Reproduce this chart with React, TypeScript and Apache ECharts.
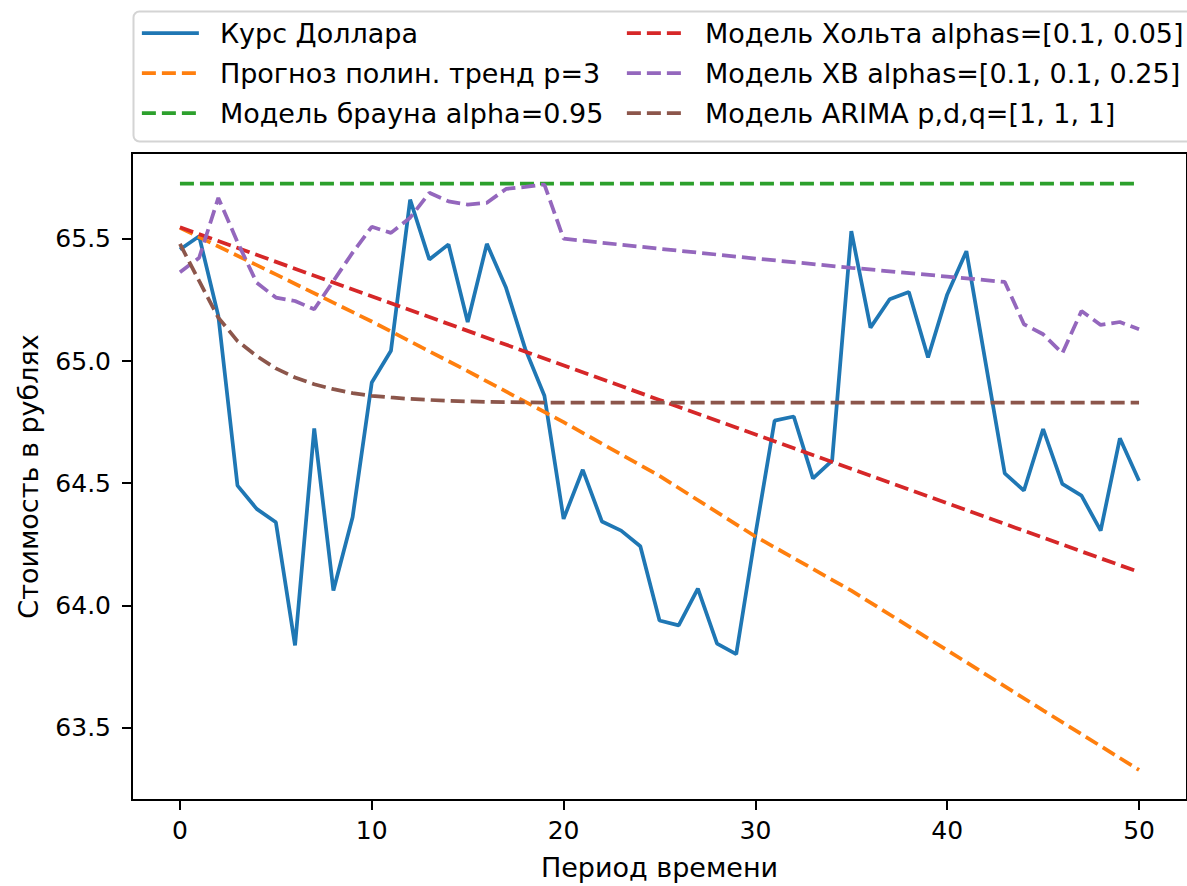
import React, { useEffect, useRef } from "react";
import * as echarts from "echarts";

// Time periods (x) for the observed series
const periods = [
  0, 1, 2, 3, 4, 5, 6, 7, 8, 9, 10, 11, 12, 13, 14, 15, 16, 17, 18, 19, 20,
  21, 22, 23, 24, 25, 26, 27, 28, 29, 30, 31, 32, 33, 34, 35, 36, 37, 38, 39,
  40, 41, 42, 43, 44, 45, 46, 47, 48, 49, 50,
];

// Курс Доллара
const dollarRate = [
  65.457, 65.511, 65.185, 64.49, 64.395, 64.34, 63.836, 64.724, 64.061, 64.361,
  64.912, 65.042, 65.661, 65.416, 65.478, 65.16, 65.48, 65.3, 65.05, 64.858,
  64.354, 64.555, 64.343, 64.306, 64.242, 63.938, 63.918, 64.068, 63.843, 63.8,
  64.29, 64.756, 64.773, 64.52, 64.593, 65.532, 65.137, 65.253, 65.283, 65.015,
  65.273, 65.45, 64.994, 64.54, 64.47, 64.722, 64.497, 64.449, 64.306, 64.684,
  64.51,
];

// Прогноз полин. тренд p=3
const polyX = [0, 5, 10, 15, 20, 25, 30, 35, 40, 45, 50];
const polyY = [65.546, 65.355, 65.162, 64.959, 64.75, 64.53, 64.282, 64.06, 63.816, 63.57, 63.326];

// Модель брауна alpha=0.95
const brownX = [0, 50];
const brownY = [65.727, 65.727];

// Модель Хольта alphas=[0.1, 0.05]
const holtX = [0, 25, 50];
const holtY = [65.548, 64.841, 64.136];

// Модель ХВ alphas=[0.1, 0.1, 0.25]
const hwX = [
  0, 1, 2, 3, 4, 5, 6, 7, 8, 9, 10, 11, 12, 13, 14, 15, 16, 17, 18, 19, 20,
  25, 30, 35, 40, 43, 44, 45, 46, 47, 48, 49, 50,
];
const hwY = [
  65.364, 65.423, 65.668, 65.487, 65.321, 65.26, 65.246, 65.212, 65.328, 65.444,
  65.55, 65.525, 65.587, 65.689, 65.654, 65.641, 65.648, 65.705, 65.713, 65.723,
  65.501, 65.46, 65.42, 65.382, 65.346, 65.324, 65.151, 65.11, 65.032, 65.205,
  65.148, 65.16, 65.13,
];

// Модель ARIMA p,d,q=[1, 1, 1]
const arimaY = [
  65.48, 65.328, 65.178, 65.082, 65.021, 64.97, 64.933, 64.905, 64.885, 64.869,
  64.858, 64.851, 64.845, 64.841, 64.837, 64.835, 64.833, 64.832, 64.831, 64.83,
  64.83, 64.83, 64.83, 64.83, 64.83, 64.83, 64.83, 64.83, 64.83, 64.83,
  64.83, 64.83, 64.83, 64.83, 64.83, 64.83, 64.83, 64.83, 64.83, 64.83,
  64.83, 64.83, 64.83, 64.83, 64.83, 64.83, 64.83, 64.83, 64.83, 64.83,
  64.83,
];

const xTicks = [0, 10, 20, 30, 40, 50];
const yTicks = [63.5, 64.0, 64.5, 65.0, 65.5];

const names = [
  "Курс Доллара",
  "Прогноз полин. тренд p=3",
  "Модель брауна alpha=0.95",
  "Модель Хольта alphas=[0.1, 0.05]",
  "Модель ХВ alphas=[0.1, 0.1, 0.25]",
  "Модель ARIMA p,d,q=[1, 1, 1]",
];
const colors = ["#1f77b4", "#ff7f0e", "#2ca02c", "#d62728", "#9467bd", "#8c564b"];

const FONT = "DejaVu Sans";

function pairs(xs: number[], ys: number[]) {
  return xs.map((x, i) => [x, ys[i]]);
}

export default function App() {
  const ref = useRef<HTMLDivElement>(null);
  useEffect(() => {
    if (!ref.current) return;
    const chart = echarts.init(ref.current, null, { renderer: "svg" });
    const LW = 3.75;
    const dash = [14, 6];
    const mk = (i: number, data: number[][], dashed: boolean) => ({
      name: names[i],
      type: "line",
      data,
      symbol: "none",
      showSymbol: false,
      color: colors[i],
      lineStyle: { color: colors[i], width: LW, type: dashed ? dash : "solid" },
      z: 2 + i,
    });
    const legendCommon = {
      orient: "vertical",
      top: 18,
      padding: 0,
      itemWidth: 57,
      itemHeight: 14,
      itemGap: 10,
      itemStyle: { opacity: 0 },
      lineStyle: { width: LW, type: "inherit" },
      textStyle: {
        fontFamily: FONT,
        fontSize: 27,
        color: "#000",
        lineHeight: 30,
        padding: [0, 0, 0, 16],
      },
    };
    const tickFont = { fontFamily: FONT, fontSize: 25, color: "#000" };
    chart.setOption({
      animation: false,
      backgroundColor: "#fff",
      textStyle: { fontFamily: FONT },
      grid: {
        left: 132,
        top: 153,
        width: 1062,
        height: 649,
        show: true,
        borderColor: "#000",
        borderWidth: 2,
        backgroundColor: "transparent",
      },
      legend: [
        { ...legendCommon, left: 140, data: names.slice(0, 3) },
        { ...legendCommon, left: 625, data: names.slice(3, 6) },
      ],
      graphic: [
        {
          type: "rect",
          z: 0,
          shape: { x: 133.5, y: 11.5, width: 1075, height: 130, r: 6 },
          style: { fill: "none", stroke: "#d4d4d4", lineWidth: 2 },
        },
      ],
      xAxis: {
        type: "value",
        min: -2.5,
        max: 52.5,
        name: "Период времени",
        nameLocation: "middle",
        nameGap: 54,
        nameTextStyle: { fontFamily: FONT, fontSize: 27, color: "#000" },
        axisLine: { show: true, onZero: false, lineStyle: { color: "#000", width: 2 } },
        axisTick: {
          show: true,
          length: 10,
          lineStyle: { color: "#000", width: 2 },
          customValues: xTicks,
        },
        axisLabel: {
          ...tickFont,
          margin: 18,
          customValues: xTicks,
          formatter: (v: number) => String(Math.round(v)),
        },
        splitLine: { show: false },
      },
      yAxis: {
        type: "value",
        min: 63.203,
        max: 65.852,
        name: "Стоимость в рублях",
        nameLocation: "middle",
        nameRotate: 90,
        nameGap: 90,
        nameTextStyle: { fontFamily: FONT, fontSize: 27, color: "#000" },
        axisLine: { show: true, onZero: false, lineStyle: { color: "#000", width: 2 } },
        axisTick: {
          show: true,
          length: 10,
          lineStyle: { color: "#000", width: 2 },
          customValues: yTicks,
        },
        axisLabel: {
          ...tickFont,
          margin: 21,
          customValues: yTicks,
          formatter: (v: number) => v.toFixed(1),
        },
        splitLine: { show: false },
      },
      series: [
        mk(0, pairs(periods, dollarRate), false),
        mk(1, pairs(polyX, polyY), true),
        mk(2, pairs(brownX, brownY), true),
        mk(3, pairs(holtX, holtY), true),
        mk(4, pairs(hwX, hwY), true),
        mk(5, pairs(periods, arimaY), true),
      ],
    });
    return () => chart.dispose();
  }, []);
  return (
    <div
      ref={ref}
      style={{ position: "absolute", left: 0, top: 0, width: 1187, height: 886 }}
    />
  );
}
